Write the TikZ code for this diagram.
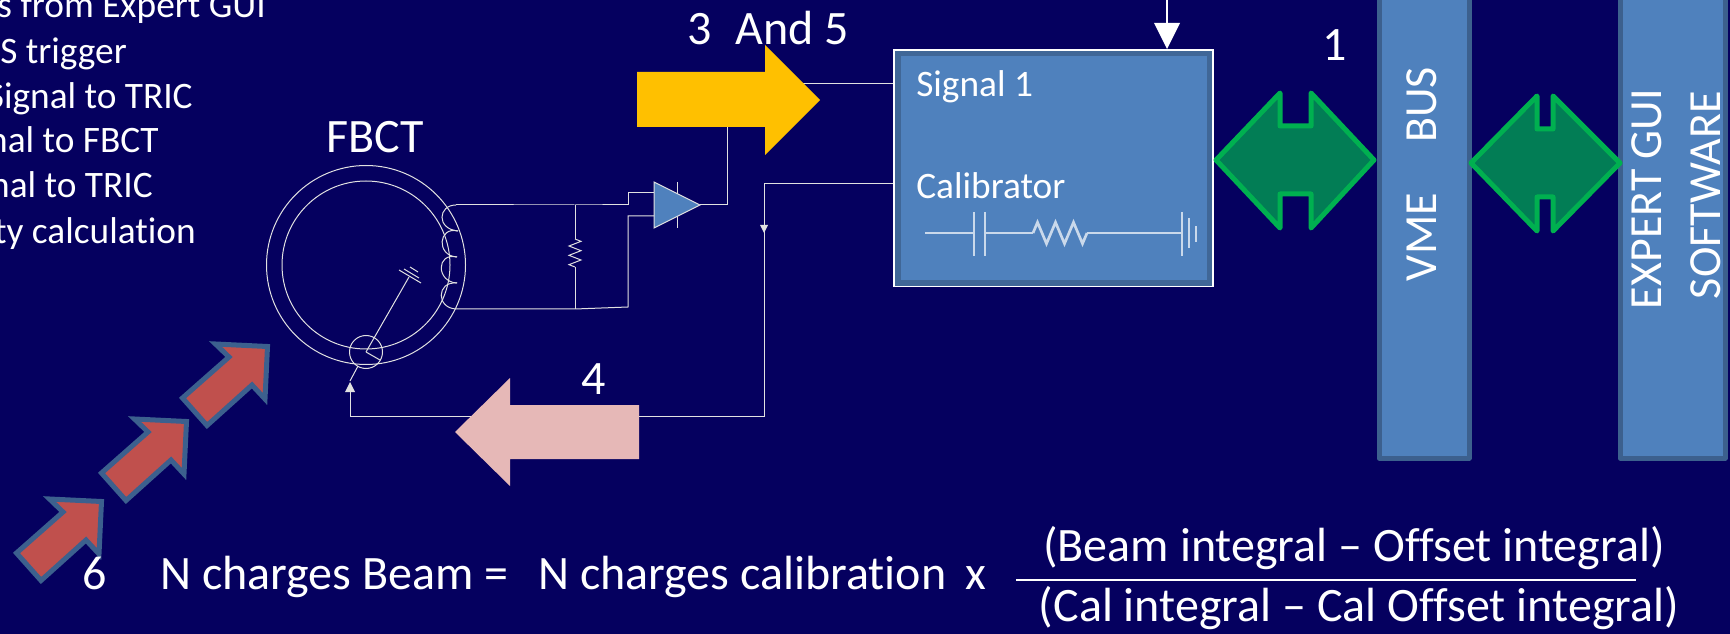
\documentclass[tikz,border=0pt]{standalone}
\usepackage{fontspec}
\setmainfont{Carlito}[Ligatures=NoCommon]
\usepackage{tikz}
\usetikzlibrary{decorations.pathmorphing}
\usetikzlibrary{positioning}
\definecolor{slidebg}{RGB}{5,0,95}
\definecolor{boxblue}{RGB}{79,129,189}
\definecolor{boxedge}{RGB}{60,96,142}
\definecolor{busgreen}{RGB}{0,176,80}
\definecolor{busfill}{RGB}{2,125,85}
\definecolor{beamred}{RGB}{192,80,77}
\definecolor{signalyellow}{RGB}{255,192,0}
\definecolor{pulsepink}{RGB}{230,184,183}
\definecolor{wiregrey}{RGB}{225,225,225}
\tikzset{
  bigtext/.style={text=white,font=\fontsize{36}{36}\selectfont,inner sep=0pt},
  midtext/.style={text=white,font=\fontsize{28}{28}\selectfont,inner sep=0pt},
  bustext/.style={text=white,font=\fontsize{34.5}{34.5}\selectfont,inner sep=0pt,rotate=90,anchor=base},
  wire/.style={draw=wiregrey,line width=0.75pt},
  busbar/.style={draw=boxedge,line width=3.75pt,fill=boxblue,line join=round},
  busarrow/.style={draw=busgreen,line width=3.75pt,fill=busfill,line join=round},
  beamarrow/.style={draw=boxedge,line width=3.75pt,fill=beamred},
  calwire/.style={draw=white!70!boxblue,line width=2pt},
}
\begin{document}
\begin{tikzpicture}[x=0.75pt,y=0.75pt,yscale=-1,xscale=1]
 \useasboundingbox (0,0) rectangle (1730,634);
 \fill [slidebg] (0,0) rectangle (1730,634);

 %Draw the list on the side
 \node (lista) [midtext,anchor=base east] at (266,18) {s from Expert GUI};
 \node (listb) [midtext,anchor=base east] at (127,64) {S trigger};
 \node (listc) [midtext,anchor=base east] at (193,109) {Signal to TRIC};
 \node (listd) [midtext,anchor=base east] at (159,153) {nal to FBCT};
 \node (liste) [midtext,anchor=base east] at (153,198) {nal to TRIC};
 \node (listf) [midtext,anchor=base east] at (196,244) {ty calculation};

 %Draw the blue boxes
 \node (calbox) [draw=white,line width=1.5pt,fill=boxblue,minimum width=239.25pt,minimum height=177pt,inner sep=0pt] at (1053.5,168) {};
 \draw [boxedge!80!boxblue,line width=4pt] (898,53.5) rectangle (1209.5,283);
 \draw [busbar] (1379,-10) rectangle (1469,458);
 \draw [busbar] (1620,-10) rectangle (1725,458);
 \node (vmebus) [bustext] at (1436,174) {VME\hspace{1.1em}BUS};
 \node (gui) [bustext] at (1661,199) {EXPERT GUI};
 \node (soft) [bustext] at (1720,195) {SOFTWARE};
 \node (sigtext) [midtext,anchor=base west] at (916,97) {Signal 1};
 \node (caltext) [midtext,anchor=base west] at (916,199) {Calibrator};

 %Draw the calibrator circuit
 \draw [calwire] (925,233) -- (974,233);
 \draw [calwire] (974,212) -- (974,256);
 \draw [calwire] (985,212) -- (985,256);
 \draw [calwire] (985,233) -- (1033,233);
 \draw [calwire,decorate,decoration={zigzag,amplitude=8pt,segment length=13.5pt}] (1033,233) -- (1087,233);
 \draw [calwire] (1087,233) -- (1182,233);
 \draw [calwire] (1182,212) -- (1182,256);
 \draw [calwire] (1189,218) -- (1189,248);
 \draw [calwire] (1196,226) -- (1196,242);

 %Draw the FBCT
 \coordinate (fbct) at (366,265);
 \coordinate (pickup) at (366,352);
 \draw [wire] (fbct) circle (99.5);
 \draw [wire] (fbct) circle (84);
 \draw [wire] (pickup) circle (16.5);
 \draw [wire] (pickup) -- (409,277);
 \draw [wire] (pickup) -- (380,360);
 \draw [wire] (399,270) -- (421,283);
 \draw [wire] (404,269) -- (419,278);
 \draw [wire] (410,267) -- (418,272);
 \draw [wire] (358,366) -- (350,381);

 %Draw the coil
 \coordinate (coilt) at (456,205);
 \coordinate (coilb) at (457,309);
 \draw [wire] (coilt) .. controls (438,205) and (436,229) .. (458,231);
 \draw [wire] (458,231) .. controls (438,226) and (436,256) .. (457,257);
 \draw [wire] (457,257) .. controls (436,252) and (436,282) .. (457,283);
 \draw [wire] (457,283) .. controls (436,281) and (436,309) .. (coilb);

 %Draw the amplifier
 \coordinate (ampa) at (654,193);
 \coordinate (ampb) at (654,216);
 \coordinate (amptip) at (700,205);
 \draw [wire,fill=boxblue] (654,182) -- (amptip) -- (654,228) -- cycle;
 \draw [wire] (677,182) -- (677,194);
 \draw [wire] (677,216) -- (677,228);

 %Draw lines
 \coordinate (restop) at (575,205);
 \coordinate (resbot) at (575,309);
 \draw [wire] (coilt) -- (restop) -- (628,205) -- (628,193) -- (ampa);
 \draw [wire] (coilb) -- (resbot) -- (628,307) -- (628,216) -- (ampb);
 \draw [wire] (restop) -- (575,239);
 \draw [wire,decorate,decoration={zigzag,amplitude=4.5pt,segment length=7pt}] (575,239) -- (575,267);
 \draw [wire] (575,267) -- (resbot);
 \draw [wire] (amptip) -- (727,205) -- (727,127);

 %Draw the outputs of the box
 \coordinate (sigin) at (calbox.west |- 0,84);
 \coordinate (calout) at (calbox.west |- 0,184);
 \draw [wire] (790,84) -- (sigin);
 \draw [wire] (calout) -- (764,184) -- (764,416) -- (639,416);
 \draw [wire] (480,416) -- (350,416) -- (350,392);
 \fill [wiregrey] (350,382) -- (345,392) -- (355,392) -- cycle;
 \fill [wiregrey] (764,233) -- (760,225) -- (768,225) -- cycle;

 %Draw the top arrow
 \draw [white,line width=1.75pt] (1167,-2) -- (1167,24);
 \fill [white] (1154,23) -- (1180,23) -- (1167,49) -- cycle;

 %Draw the yellow and pink arrows
 \fill [signalyellow] (637,72) -- (765,72) -- (765,45) -- (820,100) -- (765,155) -- (765,127) -- (637,127) -- cycle;
 \fill [pulsepink] (639,405) -- (510,405) -- (510,378) -- (455,432) -- (510,486) -- (510,459) -- (639,459) -- cycle;

 %Draw the green arrows
 \draw [busarrow] (1216,160) -- (1280,93) -- (1280,126) -- (1311,126) -- (1311,93) -- (1374,160) -- (1311,228) -- (1311,194) -- (1280,194) -- (1280,228) -- cycle;
 \draw [busarrow] (1471,163) -- (1537,96) -- (1537,129) -- (1553,129) -- (1553,96) -- (1620,163) -- (1553,231) -- (1553,197) -- (1537,197) -- (1537,231) -- cycle;

 %Draw the beam arrows
 \foreach \dx/\dy in {0/0,-81/75,-166/155}
 {
 \draw [beamarrow,shift={(\dx,\dy)}] (267.5,346.5) -- (215.5,344) -- (229,357) -- (182.5,398) -- (207,425.5) -- (252,385) -- (265,399) -- cycle;
 }

 %Labelling
 \node (fbctl) [bigtext,anchor=base] at (375,153) {FBCT};
 \node (three) [bigtext,anchor=base] at (768,45) {3\hspace{0.5em}And 5};
 \node (one) [bigtext,anchor=base] at (1335,61) {1};
 \node (four) [bigtext,anchor=base] at (594,394) {4};
 \node (six) [bigtext,anchor=base] at (95,589) {6};
 \node (nbeam) [bigtext,anchor=base west] at (160,589) {N charges Beam =};
 \node (ncal) [bigtext,anchor=base west] at (538,589) {N charges calibration};
 \node (times) [bigtext,anchor=base] at (976,589) {x};
 \node (num) [bigtext,anchor=base] at (1354,561) {(Beam integral -- Offset integral)};
 \node (den) [bigtext,anchor=base] at (1359,621) {(Cal integral -- Cal Offset integral)};
 \draw [white,line width=2pt] (1016,580) -- (1636,580);
\end{tikzpicture}
\end{document}
